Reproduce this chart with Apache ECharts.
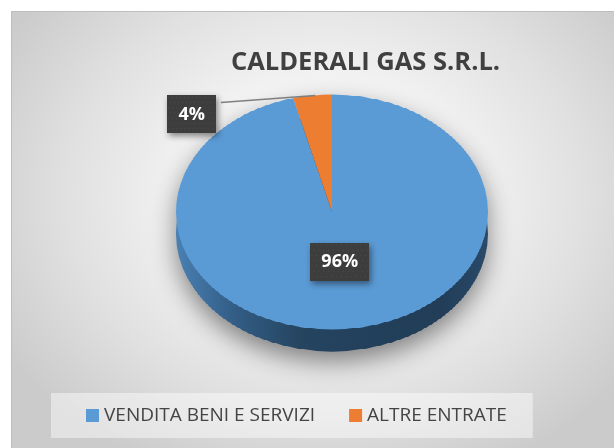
<!DOCTYPE html>
<html>
<head>
<meta charset="utf-8">
<script src="https://cdn.jsdelivr.net/npm/echarts@6/dist/echarts.min.js"></script>
<style>
  html, body { margin: 0; padding: 0; background: #ffffff; }
  #wrap { position: relative; width: 614px; height: 448px; overflow: hidden; }
  #frame {
    position: absolute; left: 11px; top: 11px; width: 603px; height: 437px;
    box-sizing: border-box; border-left: 1px solid #bdbdbd; border-top: 1px solid #bdbdbd;
    background: radial-gradient(ellipse 62% 70% at 52% 42%, #ffffff 0%, #f7f7f7 30%, #e0e0e0 70%, #cbcbcb 100%);
  }
  #pie { position: absolute; left: 0; top: 0; width: 614px; transform-origin: 0 0; }
  #pieShadow { position: absolute; left: 0; top: 0; width: 614px; height: 448px;
    filter: drop-shadow(0px 10px 12px rgba(0,0,0,0.45)); }
  #main { position: absolute; left: 0; top: 0; width: 614px; height: 448px; }
</style>
</head>
<body>
<div id="wrap">
  <div id="frame"></div>
  <div id="pieShadow"><div id="pie"></div></div>
  <div id="main"></div>
</div>
<script>
// ---- data ----
const titleText = 'CALDERALI GAS S.R.L.';
const categories = ['VENDITA BENI E SERVIZI', 'ALTRE ENTRATE'];
const values = [96, 4];
const colors = ['#5b9bd5', '#ed7d31'];

// ---- 3D look parameters (style/layout only) ----
const cx = 332, cy = 212;     // visual centre of the top face
const rx = 156, ry = 117.5;   // ellipse radii
const depth = 22;             // side thickness (screen px)
const s = ry / rx;            // vertical squash

const pieDiv = document.getElementById('pie');
pieDiv.style.height = (448 / s) + 'px';
pieDiv.style.transform = 'scaleY(' + s + ')';

const pieData = categories.map((c, i) => ({ name: c, value: values[i] }));

// shapes chart (squashed)
const shapes = echarts.init(pieDiv, null, { renderer: 'canvas' });
const sideGrad = new echarts.graphic.LinearGradient(0, 0, 1, 0, [
  { offset: 0, color: '#4a80b3' },
  { offset: 0.18, color: '#335e87' },
  { offset: 0.4, color: '#25445f' },
  { offset: 0.85, color: '#213d58' },
  { offset: 1, color: '#2a4a69' }
]);
shapes.setOption({
  animation: false,
  series: [
    {
      type: 'pie', silent: true,
      center: [cx, cy / s + depth / s], radius: rx,
      startAngle: 90, clockwise: true,
      label: { show: false }, labelLine: { show: false },
      itemStyle: { color: sideGrad, borderWidth: 0 },
      data: pieData
    },
    {
      type: 'pie', silent: true,
      center: [cx, cy / s], radius: rx,
      startAngle: 90, clockwise: true,
      label: { show: false }, labelLine: { show: false },
      itemStyle: { borderWidth: 0 },
      data: pieData.map((d, i) => ({ name: d.name, value: d.value, itemStyle: { color: colors[i] } }))
    }
  ]
});

// dotted pattern for label boxes
function makePattern(w, h) {
  const c = document.createElement('canvas');
  c.width = w; c.height = h;
  const g = c.getContext('2d');
  g.fillStyle = '#3d3d3d'; g.fillRect(0, 0, w, h);
  g.fillStyle = '#4d4d4d';
  for (let y = 1; y < h; y += 5) {
    for (let x = ((y - 1) / 5) % 2 ? 3 : 1; x < w; x += 5) g.fillRect(x, y, 1.2, 1.2);
  }
  return c;
}
const pat = makePattern(60, 36);

// overlay chart: title, legend, labels
const main = echarts.init(document.getElementById('main'), null, { renderer: 'canvas' });
main.setOption({
  animation: false,
  backgroundColor: 'transparent',
  title: {
    text: titleText, left: 226, top: 45,
    textStyle: { fontFamily: 'Open Sans', fontWeight: 'bold', fontSize: 25.5, color: '#404040' }
  },
  legend: {
    left: 51, top: 393,
    padding: [13, 26, 13, 35],
    backgroundColor: 'rgba(255,255,255,0.45)',
    itemWidth: 13, itemHeight: 13, itemGap: 34, icon: 'rect',
    selectedMode: false,
    textStyle: { fontFamily: 'Open Sans', fontSize: 19, color: '#444444' },
    data: categories.map((c, i) => ({ name: c, itemStyle: { color: colors[i], opacity: 1 } }))
  },
  series: [{
    type: 'pie', silent: true,
    center: [cx, cy], radius: ry,
    startAngle: 90, clockwise: true,
    itemStyle: { color: 'rgba(0,0,0,0)', borderWidth: 0 },
    label: {
      show: true,
      formatter: p => Math.round(p.percent) + '%',
      fontFamily: 'Open Sans', fontWeight: 'bold', fontSize: 18, color: '#ffffff',
      backgroundColor: { image: pat },
      padding: [10, 11, 10, 11],
      shadowColor: 'rgba(0,0,0,0.45)', shadowBlur: 6, shadowOffsetX: 2, shadowOffsetY: 3
    },
    labelLine: { show: true, length: 3, length2: 96, lineStyle: { color: '#7f7f7f', width: 1.5 } },
    labelLayout: function (p) {
      if (p.dataIndex === 0) return { dy: -11 };
      const pts = p.labelLinePoints;
      if (!pts) return { dy: 22 };
      const start = [pts[0][0] - 2, pts[0][1]];
      const end = [pts[2][0], pts[2][1] + 10];
      return { dy: 22, labelLinePoints: [start, start, end] };
    },
    data: pieData.map((d, i) => ({
      name: d.name, value: d.value,
      label: { position: i === 0 ? 'inside' : 'outside' },
      labelLine: { show: i !== 0 }
    }))
  }]
});
</script>
</body>
</html>
